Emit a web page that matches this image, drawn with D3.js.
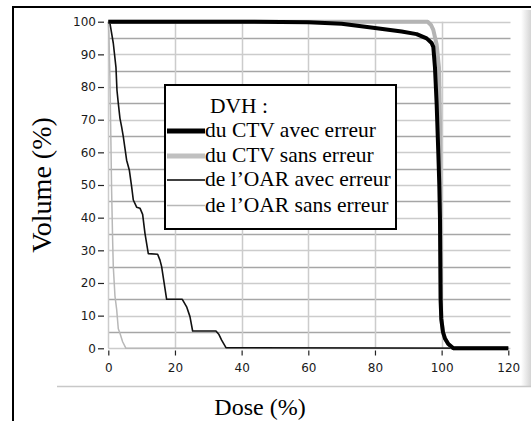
<!DOCTYPE html>
<html>
<head>
<meta charset="utf-8">
<script src="https://cdn.jsdelivr.net/npm/d3@7"></script>
<style>
  html, body { margin: 0; padding: 0; background: #fff; }
  svg { display: block; }
</style>
</head>
<body>
<svg id="chart" width="531" height="421"></svg>
<script>
// Dose-volume histograms (dose in %, volume in %)
const ctvErrDose = [0, 40, 60, 70, 80, 88, 92.5, 95.5, 97, 97.5, 98, 98.5, 99, 99.3, 99.5, 99.7, 99.9, 100.4, 101, 102, 103.5, 120];
const ctvErrVol  = [100, 100, 99.8, 99.4, 98.1, 97, 96.2, 94.9, 93.5, 92.3, 86, 75, 60, 50, 40, 15, 9, 5, 3, 1.3, 0, 0];

const ctvRefDose = [0, 95.8, 96.8, 97.5, 98.5, 99.2, 99.5, 99.6, 99.7, 99.9, 100.4, 101, 102, 103.5, 120];
const ctvRefVol  = [100, 100, 99, 97.5, 93, 86, 70, 50, 15, 9, 5, 3, 1.3, 0, 0];

const oarErrDose = [0, 0.5, 1.5, 2.3, 2.6, 3, 3.5, 4, 4.5, 5, 5.5, 6.3, 7, 7.5, 8.5, 9.5, 10.3, 11, 12, 14.8, 15.5, 16, 17.5, 22.2, 23.5, 24.5, 25.3, 32.3, 33.2, 34, 35.3, 120];
const oarErrVol  = [100, 99.5, 93.4, 86, 79, 75, 70.4, 67.8, 64.8, 61.2, 57.6, 54.6, 49.5, 45.4, 43.2, 42.9, 41, 35.2, 29, 28.8, 27, 25, 15, 15, 12.7, 9.7, 5.3, 5.3, 4.2, 2.5, 0.2, 0];

const oarRefDose = [0, 0.2, 0.5, 0.8, 1.0, 1.3, 1.5, 2, 2.5, 3, 3.5, 4.3, 5.3, 120];
const oarRefVol  = [100, 96, 82, 62, 48, 33, 25, 16, 12, 6, 4.6, 2, 0, 0];

const xTicks = [0, 20, 40, 60, 80, 100, 120];
const yTicks = [0, 10, 20, 30, 40, 50, 60, 70, 80, 90, 100];
const yMinor = [5, 15, 25, 35, 45, 55, 65, 75, 85, 95];

const legendTitle = "DVH :";
const legendLabels = ["du CTV avec erreur", "du CTV sans erreur", "de l\u2019OAR avec erreur", "de l\u2019OAR sans erreur"];

const svg = d3.select("#chart");

const x = d3.scaleLinear().domain([0, 120]).range([108.3, 508.3]);
const y = d3.scaleLinear().domain([0, 100]).range([348.3, 21.7]);

// panel bevel (right strip and bottom edge)
const defs = svg.append("defs");
const grad = defs.append("linearGradient").attr("id", "bevel").attr("x1", 0).attr("x2", 1).attr("y1", 0).attr("y2", 0);
grad.append("stop").attr("offset", 0).attr("stop-color", "#ffffff");
grad.append("stop").attr("offset", 1).attr("stop-color", "#d4d4d4");
svg.append("rect").attr("x", 521).attr("y", 10).attr("width", 10).attr("height", 377).attr("fill", "url(#bevel)");
svg.append("line").attr("x1", 57).attr("x2", 531).attr("y1", 386.5).attr("y2", 386.5)
  .attr("stroke", "#c8c8c8").attr("stroke-width", 1.5);

// outer frame
svg.append("line").attr("x1", 13).attr("x2", 13).attr("y1", 6).attr("y2", 421).attr("stroke", "#000").attr("stroke-width", 2);
svg.append("line").attr("x1", 12).attr("x2", 531).attr("y1", 7).attr("y2", 7).attr("stroke", "#000").attr("stroke-width", 2);

// grid
const grid = svg.append("g");
grid.selectAll("line.hmaj").data(yTicks).join("line")
  .attr("x1", x(0)).attr("x2", 510.5)
  .attr("y1", d => Math.round(y(d)) + 0.5).attr("y2", d => Math.round(y(d)) + 0.5)
  .attr("stroke", "#cccccc").attr("stroke-width", 1.5);
grid.selectAll("line.hmin").data(yMinor).join("line")
  .attr("x1", x(0)).attr("x2", 510.5)
  .attr("y1", d => Math.round(y(d)) + 0.5).attr("y2", d => Math.round(y(d)) + 0.5)
  .attr("stroke", "#a6a6a6").attr("stroke-width", 1.5);
grid.selectAll("line.v").data(xTicks.filter(d => d < 120)).join("line")
  .attr("x1", d => Math.round(x(d)) + 0.5).attr("x2", d => Math.round(x(d)) + 0.5)
  .attr("y1", y(100)).attr("y2", y(0))
  .attr("stroke", "#cccccc").attr("stroke-width", 1.5);

// axes
const yAxis = svg.append("g").attr("transform", "translate(104,0)")
  .call(d3.axisLeft(y).tickValues(yTicks).tickSize(6).tickPadding(2));
const xAxis = svg.append("g").attr("transform", "translate(0,350.5)")
  .call(d3.axisBottom(x).tickValues(xTicks).tickSize(5).tickPadding(8));
[yAxis, xAxis].forEach(g => {
  g.select(".domain").remove();
  g.selectAll(".tick line").attr("stroke", "#222").attr("stroke-width", 1.2);
  g.selectAll(".tick text").attr("fill", "#1a1a1a")
    .style("font-family", "'DejaVu Sans', sans-serif").style("font-size", "12px");
});

// curves
const line = d3.line().x(d => x(d[0])).y(d => y(d[1]));
const series = [
  { dose: oarRefDose, vol: oarRefVol, color: "#b8b8b8", width: 1.5 },
  { dose: oarErrDose, vol: oarErrVol, color: "#111111", width: 1.6 },
  { dose: ctvRefDose, vol: ctvRefVol, color: "#b4b4b4", width: 4 },
  { dose: ctvErrDose, vol: ctvErrVol, color: "#000000", width: 4 }
];
svg.append("g").selectAll("path").data(series).join("path")
  .attr("d", s => line(s.dose.map((d, i) => [d, s.vol[i]])))
  .attr("fill", "none")
  .attr("stroke", s => s.color)
  .attr("stroke-width", s => s.width)
  .attr("stroke-linejoin", "round");

// legend
const lg = svg.append("g");
lg.append("rect").attr("x", 165).attr("y", 85).attr("width", 231).attr("height", 144)
  .attr("fill", "#fff").attr("stroke", "#000").attr("stroke-width", 2);
lg.append("text").attr("x", 210).attr("y", 113).text(legendTitle)
  .style("font-family", "'Liberation Serif', 'Times New Roman', serif").style("font-size", "21.5px");
const legendStyle = [
  { color: "#000", width: 5 },
  { color: "#c0c0c0", width: 5 },
  { color: "#000", width: 1.6 },
  { color: "#b8b8b8", width: 1.5 }
];
const rowY = [137, 162, 186, 211.5];
legendLabels.forEach((lab, i) => {
  lg.append("line").attr("x1", 167).attr("x2", 205)
    .attr("y1", rowY[i] - 6).attr("y2", rowY[i] - 6)
    .attr("stroke", legendStyle[i].color).attr("stroke-width", legendStyle[i].width);
  lg.append("text").attr("x", 205).attr("y", rowY[i]).text(lab)
    .style("font-family", "'Liberation Serif', 'Times New Roman', serif").style("font-size", "21.5px");
});

// axis titles
svg.append("text").attr("x", 260).attr("y", 415).attr("text-anchor", "middle")
  .text("Dose (%)")
  .style("font-family", "'Liberation Serif', 'Times New Roman', serif").style("font-size", "24px");
svg.append("text").attr("transform", "translate(51,185) rotate(-90)").attr("text-anchor", "middle")
  .text("Volume (%)")
  .style("font-family", "'Liberation Serif', 'Times New Roman', serif").style("font-size", "28px");
</script>
</body>
</html>
